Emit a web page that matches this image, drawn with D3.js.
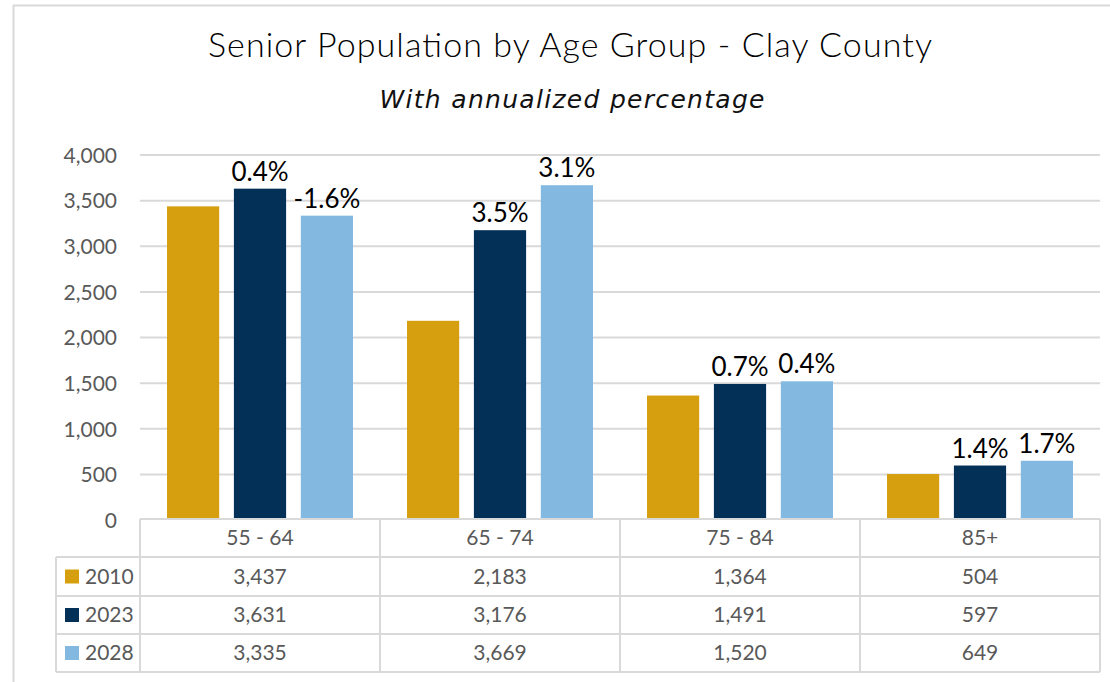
<!DOCTYPE html>
<html>
<head>
<meta charset="utf-8">
<script src="https://cdn.jsdelivr.net/npm/d3@7"></script>
<style>
  body { margin: 0; background: #fff; }
  text { font-family: Lato, "Open Sans", sans-serif; }
</style>
</head>
<body>
<svg width="1110" height="682"></svg>
<script>
// chart data
var ageGroups = ["55 - 64", "65 - 74", "75 - 84", "85+"];
var years = ["2010", "2023", "2028"];
var pop2010 = [3437, 2183, 1364, 504];
var pop2023 = [3631, 3176, 1491, 597];
var pop2028 = [3335, 3669, 1520, 649];
var pct2023 = ["0.4%", "3.5%", "0.7%", "1.4%"];
var pct2028 = ["-1.6%", "3.1%", "0.4%", "1.7%"];
var yTicks = [0, 500, 1000, 1500, 2000, 2500, 3000, 3500, 4000];
var colors = ["#D69F10", "#023057", "#83B9E0"];

var series = [
  { year: years[0], values: pop2010, labels: null },
  { year: years[1], values: pop2023, labels: pct2023 },
  { year: years[2], values: pop2028, labels: pct2028 }
];

var svg = d3.select("svg");
var gridColor = "#d9d9d9";
var textGrey = "#595959";

// outer frame
svg.append("rect")
  .attr("x", 13.5).attr("y", 5.5)
  .attr("width", 1110).attr("height", 700)
  .attr("fill", "none").attr("stroke", gridColor).attr("stroke-width", 2);

// title
svg.append("text")
  .attr("x", 570).attr("y", 57)
  .attr("text-anchor", "middle")
  .attr("textLength", 724).attr("lengthAdjust", "spacing")
  .style("font-size", "34px").style("font-weight", 300).style("fill", "#000")
  .text("Senior Population by Age Group - Clay County");

svg.append("text")
  .attr("x", 572).attr("y", 108)
  .attr("text-anchor", "middle")
  .attr("textLength", 385).attr("lengthAdjust", "spacing")
  .style("font-family", "'DejaVu Sans', sans-serif")
  .style("font-size", "25px")
  .style("font-style", "italic").style("fill", "#111")
  .text("With annualized percentage");

// scales
var plotLeft = 140, plotRight = 1100, plotTop = 155, plotBottom = 520;

var x = d3.scaleBand()
  .domain(ageGroups)
  .range([plotLeft, plotRight]);

var xInner = d3.scaleBand()
  .domain(years)
  .range([27, 213])
  .paddingInner(0.22);

var y = d3.scaleLinear()
  .domain([0, 4000])
  .range([plotBottom, plotTop]);

// gridlines + y axis
var yAxis = d3.axisLeft(y)
  .tickValues(yTicks)
  .tickFormat(d3.format(","))
  .tickSize(0)
  .tickPadding(23);

var yg = svg.append("g")
  .attr("transform", "translate(" + plotLeft + ",0)")
  .call(yAxis);
yg.select(".domain").remove();
yg.selectAll("text")
  .style("font-size", "21px").style("fill", textGrey)
  .attr("dy", "0.35em");

svg.append("g").selectAll("line")
  .data(yTicks.filter(function(d) { return d > 0; }))
  .enter().append("line")
  .attr("x1", plotLeft).attr("x2", plotRight)
  .attr("y1", function(d) { return y(d); })
  .attr("y2", function(d) { return y(d); })
  .attr("stroke", gridColor).attr("stroke-width", 2);

// bars
series.forEach(function(s, si) {
  var g = svg.append("g");
  g.selectAll("rect")
    .data(s.values)
    .enter().append("rect")
    .attr("x", function(d, i) { return x(ageGroups[i]) + xInner(s.year); })
    .attr("y", function(d) { return y(d); })
    .attr("width", xInner.bandwidth())
    .attr("height", function(d) { return y(0) - y(d); })
    .attr("fill", colors[si]);

  if (s.labels) {
    g.selectAll("text")
      .data(s.values)
      .enter().append("text")
      .attr("x", function(d, i) { return x(ageGroups[i]) + xInner(s.year) + xInner.bandwidth() / 2; })
      .attr("y", function(d) { return y(d) - 8; })
      .attr("text-anchor", "middle")
      .style("font-size", "26px").style("fill", "#000")
      .text(function(d, i) { return s.labels[i]; });
  }
});

// data table
var rowH = [519, 557, 596, 634, 672];
var tableLeft = 56;
var tbl = svg.append("g")
  .attr("stroke", gridColor).attr("stroke-width", 2).attr("fill", "none");

// horizontal lines
tbl.append("line").attr("x1", plotLeft).attr("x2", plotRight).attr("y1", rowH[0]).attr("y2", rowH[0]);
rowH.slice(1).forEach(function(yy) {
  tbl.append("line").attr("x1", tableLeft).attr("x2", plotRight).attr("y1", yy).attr("y2", yy);
});
// vertical lines
tbl.append("line").attr("x1", tableLeft).attr("x2", tableLeft).attr("y1", rowH[1]).attr("y2", rowH[4]);
ageGroups.forEach(function(c) {
  tbl.append("line").attr("x1", x(c)).attr("x2", x(c)).attr("y1", rowH[0]).attr("y2", rowH[4]);
});
tbl.append("line").attr("x1", plotRight).attr("x2", plotRight).attr("y1", rowH[0]).attr("y2", rowH[4]);

// category header
svg.append("g").selectAll("text")
  .data(ageGroups)
  .enter().append("text")
  .attr("x", function(d) { return x(d) + x.bandwidth() / 2; })
  .attr("y", (rowH[0] + rowH[1]) / 2)
  .attr("dy", "0.35em")
  .attr("text-anchor", "middle")
  .style("font-size", "21px").style("fill", textGrey)
  .text(function(d) { return d; });

// rows
var fmt = d3.format(",");
series.forEach(function(s, si) {
  var cy = (rowH[si + 1] + rowH[si + 2]) / 2;
  svg.append("rect")
    .attr("x", 65).attr("y", cy - 7)
    .attr("width", 14).attr("height", 14)
    .attr("fill", colors[si]);
  svg.append("text")
    .attr("x", 85).attr("y", cy).attr("dy", "0.35em")
    .style("font-size", "21px").style("fill", textGrey)
    .text(s.year);
  svg.append("g").selectAll("text")
    .data(s.values)
    .enter().append("text")
    .attr("x", function(d, i) { return x(ageGroups[i]) + x.bandwidth() / 2; })
    .attr("y", cy).attr("dy", "0.35em")
    .attr("text-anchor", "middle")
    .style("font-size", "21px").style("fill", textGrey)
    .text(function(d) { return fmt(d); });
});
</script>
</body>
</html>
